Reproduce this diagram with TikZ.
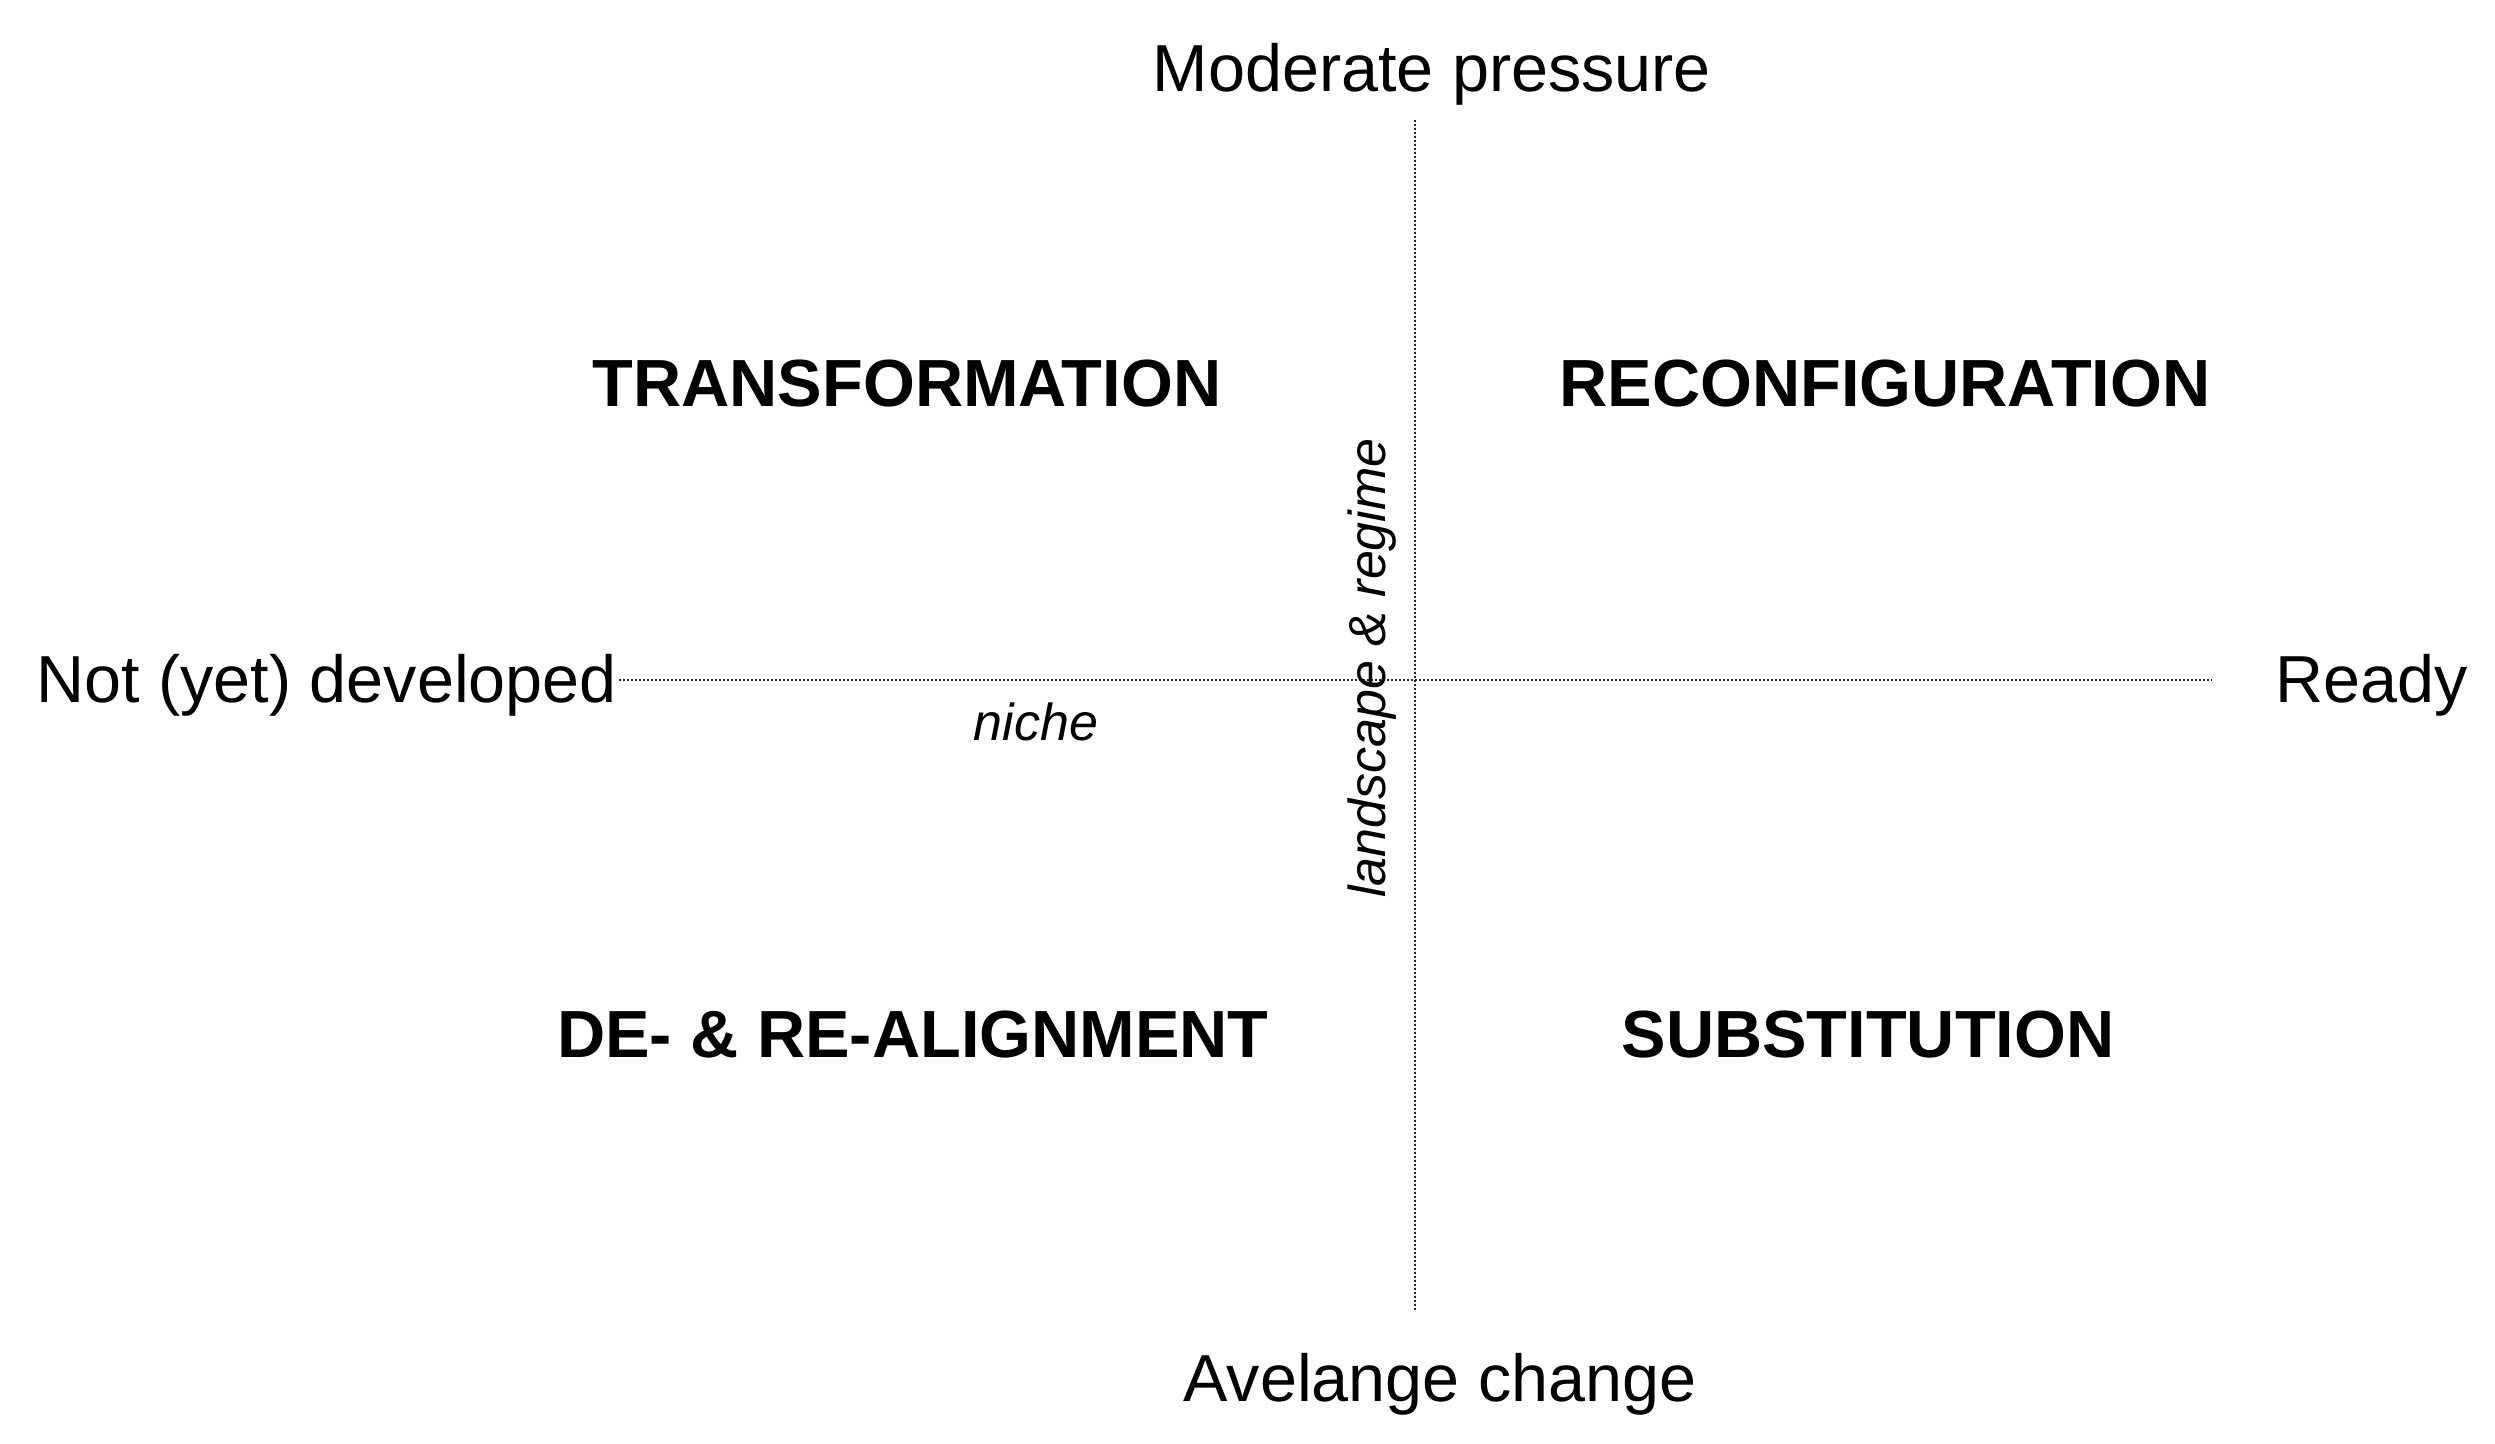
\documentclass[tikz,border=0pt]{standalone}
\usepackage{fontspec}
\setmainfont{Liberation Sans}
\begin{document}
\begin{tikzpicture}[x=1pt,y=-1pt,
  axislabel/.style={inner sep=0pt,font=\fontsize{66.5}{80}\selectfont},
  quadrant/.style={inner sep=0pt,font=\fontsize{66.7}{80}\selectfont\bfseries},
  layer/.style={inner sep=0pt,font=\fontsize{52}{62}\selectfont\itshape},
  axisline/.style={black!85,line width=2.6pt,dash pattern=on 1.8pt off 2.2pt}]
\useasboundingbox[fill=white] (0,0) rectangle (2495,1443);
% axes
\coordinate (vtop) at (1415,120);
\coordinate (vbot) at (1415,1311);
\coordinate (hleft) at (619,680);
\coordinate (hright) at (2212,680);
\draw[axisline] (vtop) -- (vbot);
\draw[axisline] (hleft) -- (hright);
% axis labels
\node[axislabel] (mod) at (1432,74) {Moderate pressure};
\node[axislabel] (ava) at (1440,1384) {Avelange change};
\node[axislabel,anchor=east] (not) at (617,685) {Not (yet) developed};
\node[axislabel,anchor=west] (ready) at (2275,685) {Ready};
% quadrants
\node[quadrant] (tr) at (907,384) {TRANSFORMATION};
\node[quadrant] (rc) at (1885,384) {RECONFIGURATION};
\node[quadrant] (de) at (913,1035) {DE- \& RE-ALIGNMENT};
\node[quadrant] (su) at (1868,1035) {SUBSTITUTION};
% layers
\node[layer] (niche) at (1036,722) {niche};
\node[layer,rotate=90] (land) at (1372,668) {landscape \& regime};
\end{tikzpicture}
\end{document}
